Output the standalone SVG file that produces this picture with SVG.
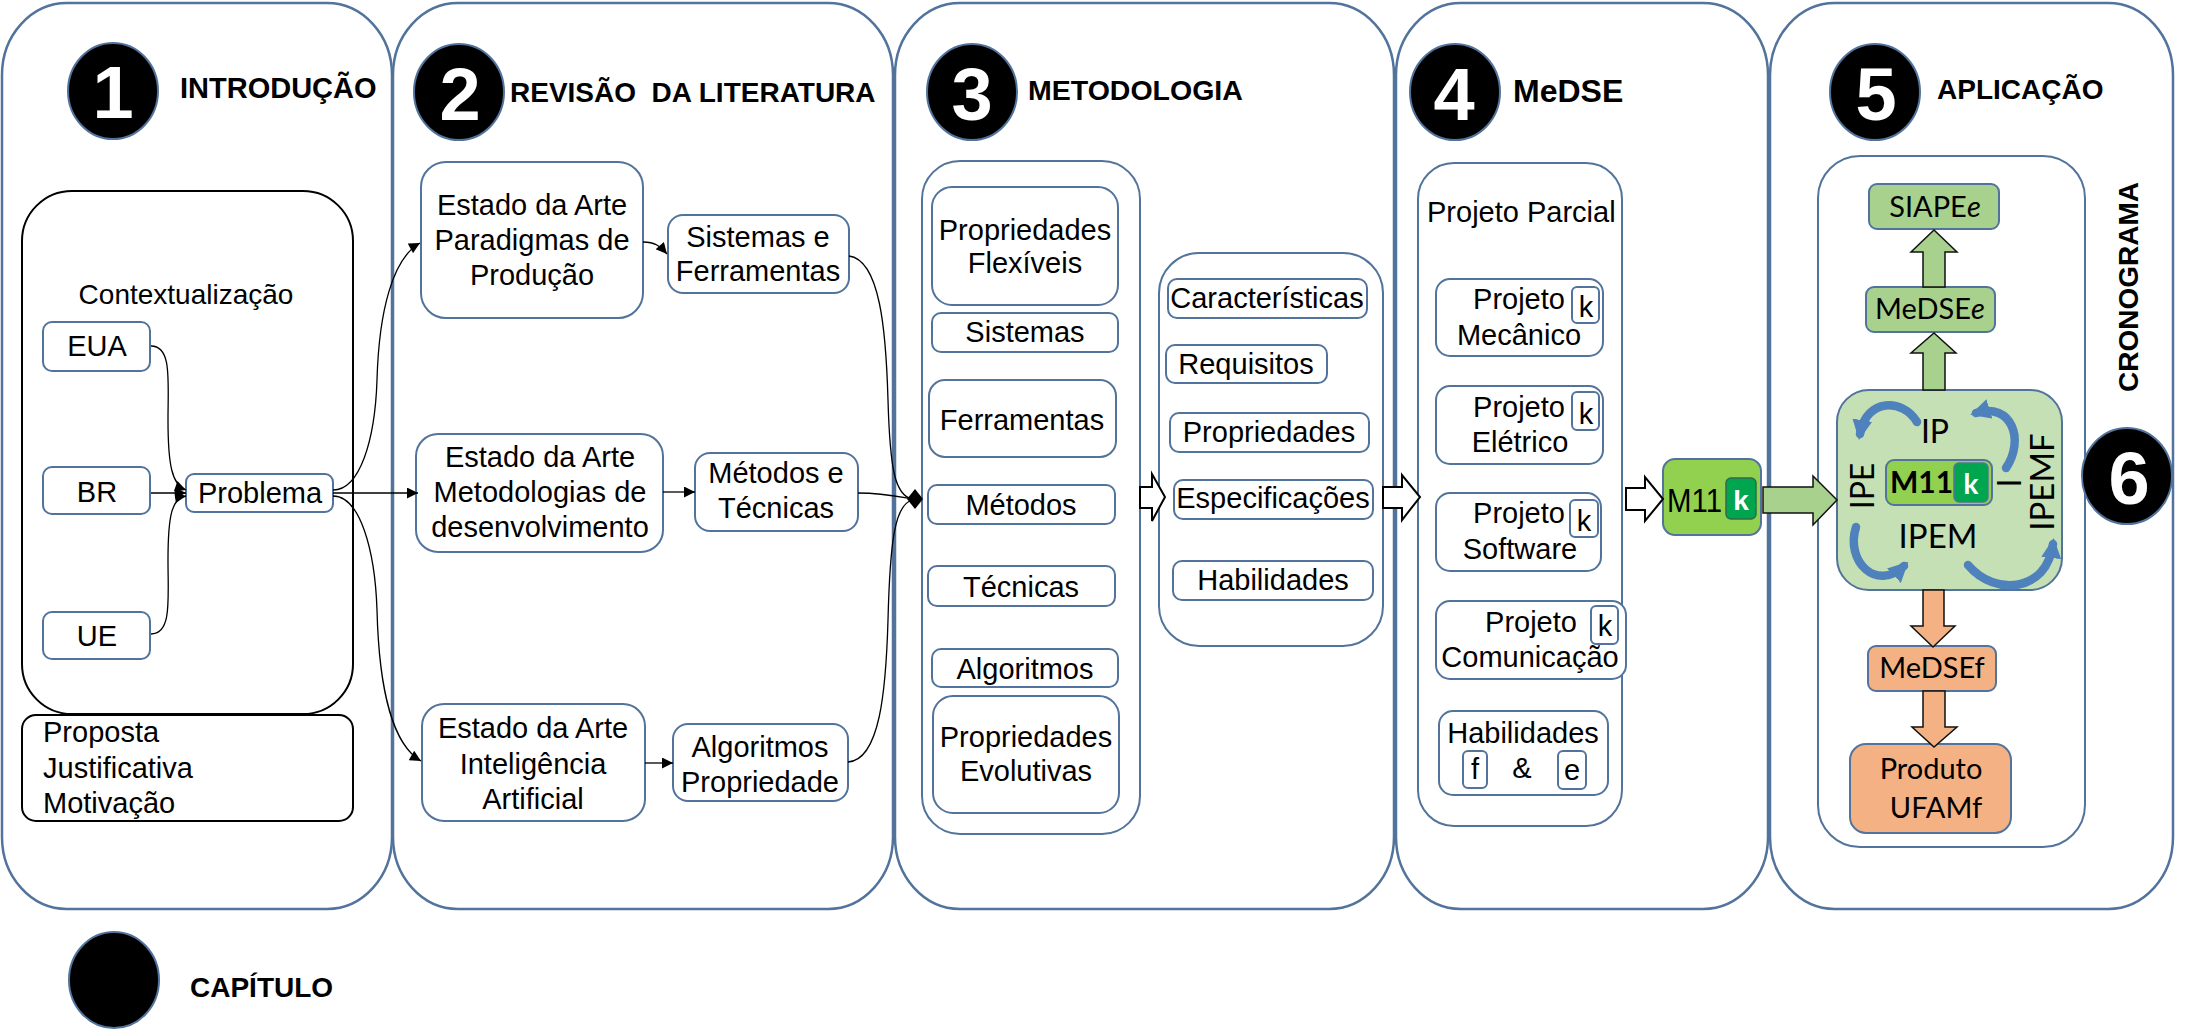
<svg xmlns="http://www.w3.org/2000/svg" width="2199" height="1030" viewBox="0 0 2199 1030">
<style>
.panel{fill:#fff;stroke:#52739b;stroke-width:2.5}
.box{fill:#fff;stroke:#52739b;stroke-width:2}
.bk{fill:#fff;stroke:#000;stroke-width:2}
.t{font-family:"Liberation Sans",Arial,sans-serif;font-size:29px;fill:#000}
.c{text-anchor:middle}
.h{font-family:"Liberation Sans",Arial,sans-serif;font-weight:bold;font-size:28px;fill:#000}
.num{font-family:"Liberation Sans",Arial,sans-serif;font-weight:bold;font-size:74px;fill:#fff;text-anchor:middle}
.chap{fill:#000;stroke:#52739b;stroke-width:2}
.conn{fill:none;stroke:#000;stroke-width:1.3}
.hol{fill:#fff;stroke:#000;stroke-width:2}
.cal{font-family:Lato,"Liberation Sans",sans-serif;font-size:29px;fill:#000}
.gbox{fill:#a9d18e;stroke:#52739b;stroke-width:2}
.obox{fill:#f4b183;stroke:#52739b;stroke-width:2}
.garr{fill:#a9d18e;stroke:#111;stroke-width:1.5}
.oarr{fill:#f4b183;stroke:#111;stroke-width:1.5}
.blue{fill:none;stroke:#4f81bd;stroke-width:8.5;stroke-linecap:round}
</style>
<defs>
<marker id="arr" viewBox="0 0 10 10" refX="10" refY="5" markerWidth="14" markerHeight="11" markerUnits="userSpaceOnUse" orient="auto"><path d="M0,0 L10,5 L0,10 z" fill="#000"/></marker>
<marker id="barr" viewBox="0 0 10 10" refX="7" refY="5" markerWidth="20" markerHeight="20" markerUnits="userSpaceOnUse" orient="auto"><path d="M0,0 L10,5 L0,10 z" fill="#4f81bd"/></marker>
</defs>
<rect x="0" y="0" width="2199" height="1030" fill="#fff"/>

<g id="panels">
<rect class="panel" x="2" y="3" width="390" height="906" rx="65" ry="72"/>
<rect class="panel" x="393" y="3" width="500" height="906" rx="65" ry="72"/>
<rect class="panel" x="895" y="3" width="499" height="906" rx="65" ry="72"/>
<rect class="panel" x="1396" y="3" width="372" height="906" rx="65" ry="72"/>
<rect class="panel" x="1770" y="3" width="403" height="906" rx="65" ry="72"/>
</g>

<g id="chapter1">
<ellipse class="chap" cx="113" cy="91" rx="45" ry="48"/>
<text class="num" x="113" y="118">1</text>
<text class="h" x="180" y="98" style="font-size:29px">INTRODUÇÃO</text>
</g>
<g id="contextualizacao">
<rect class="bk" x="22" y="191" width="331" height="523" rx="50"/>
<text class="t c" x="186" y="304" style="font-size:28px">Contextualização</text>
</g>
<g id="eua"><rect class="box" x="43" y="322" width="107" height="49" rx="9"/><text class="t c" x="97" y="356">EUA</text></g>
<g id="br"><rect class="box" x="43" y="467" width="107" height="47" rx="9"/><text class="t c" x="97" y="502">BR</text></g>
<g id="ue"><rect class="box" x="43" y="612" width="107" height="47" rx="9"/><text class="t c" x="97" y="646">UE</text></g>
<g id="problema"><rect class="box" x="186" y="474" width="147" height="38" rx="8"/><text class="t c" x="260" y="503">Problema</text></g>
<g id="proposta">
<rect class="bk" x="22" y="715" width="331" height="106" rx="14"/>
<text class="t" x="43" y="742">Proposta</text>
<text class="t" x="43" y="778">Justificativa</text>
<text class="t" x="43" y="813">Motivação</text>
</g>

<g id="chapter2">
<ellipse class="chap" cx="459" cy="92" rx="45" ry="48"/>
<text class="num" x="460" y="120">2</text>
<text class="h" x="510" y="102" style="white-space:pre">REVISÃO  DA LITERATURA</text>
</g>
<g id="ea-paradigmas"><rect class="box" x="421" y="162" width="222" height="156" rx="25"/>
<text class="t c" x="532" y="215">Estado da Arte</text><text class="t c" x="532" y="250">Paradigmas de</text><text class="t c" x="532" y="285">Produção</text></g>
<g id="sistemas-ferramentas"><rect class="box" x="668" y="215" width="181" height="78" rx="15"/>
<text class="t c" x="758" y="247">Sistemas e</text><text class="t c" x="758" y="281">Ferramentas</text></g>
<g id="ea-metodologias"><rect class="box" x="416" y="434" width="247" height="118" rx="22"/>
<text class="t c" x="540" y="467">Estado da Arte</text><text class="t c" x="540" y="502">Metodologias de</text><text class="t c" x="540" y="537">desenvolvimento</text></g>
<g id="metodos-tecnicas"><rect class="box" x="695" y="453" width="163" height="78" rx="15"/>
<text class="t c" x="776" y="483">Métodos e</text><text class="t c" x="776" y="518">Técnicas</text></g>
<g id="ea-ia"><rect class="box" x="422" y="704" width="223" height="117" rx="22"/>
<text class="t c" x="533" y="738">Estado da Arte</text><text class="t c" x="533" y="774">Inteligência</text><text class="t c" x="533" y="809">Artificial</text></g>
<g id="algoritmos-propriedade"><rect class="box" x="673" y="724" width="175" height="77" rx="15"/>
<text class="t c" x="760" y="757">Algoritmos</text><text class="t c" x="760" y="792">Propriedade</text></g>

<g id="chapter3">
<ellipse class="chap" cx="972" cy="92" rx="45" ry="48"/>
<text class="num" x="972" y="120">3</text>
<text class="h" x="1028" y="100" style="font-size:28.5px">METODOLOGIA</text>
</g>
<g id="grupo-esq"><rect class="box" x="922" y="161" width="218" height="673" rx="38"/></g>
<g id="prop-flexiveis"><rect class="box" x="932" y="187" width="186" height="118" rx="20"/>
<text class="t c" x="1025" y="240">Propriedades</text><text class="t c" x="1025" y="273">Flexíveis</text></g>
<g id="sistemas"><rect class="box" x="932" y="313" width="186" height="39" rx="9"/><text class="t c" x="1025" y="342">Sistemas</text></g>
<g id="ferramentas"><rect class="box" x="929" y="380" width="187" height="77" rx="16"/><text class="t c" x="1022" y="430">Ferramentas</text></g>
<g id="metodos"><rect class="box" x="928" y="485" width="187" height="39" rx="9"/><text class="t c" x="1021" y="515">Métodos</text></g>
<g id="tecnicas"><rect class="box" x="928" y="566" width="187" height="40" rx="9"/><text class="t c" x="1021" y="597">Técnicas</text></g>
<g id="algoritmos"><rect class="box" x="932" y="649" width="186" height="38" rx="9"/><text class="t c" x="1025" y="679">Algoritmos</text></g>
<g id="prop-evolutivas"><rect class="box" x="933" y="696" width="186" height="117" rx="20"/>
<text class="t c" x="1026" y="747">Propriedades</text><text class="t c" x="1026" y="781">Evolutivas</text></g>
<g id="grupo-dir"><rect class="box" x="1159" y="253" width="224" height="393" rx="40"/></g>
<g id="caracteristicas"><rect class="box" x="1168" y="279" width="199" height="39" rx="9"/><text class="t c" x="1267" y="308">Características</text></g>
<g id="requisitos"><rect class="box" x="1166" y="345" width="161" height="38" rx="9"/><text class="t c" x="1246" y="374">Requisitos</text></g>
<g id="propriedades"><rect class="box" x="1170" y="413" width="199" height="39" rx="9"/><text class="t c" x="1269" y="442">Propriedades</text></g>
<g id="especificacoes"><rect class="box" x="1174" y="480" width="199" height="39" rx="9"/><text class="t c" x="1273" y="508">Especificações</text></g>
<g id="habilidades3"><rect class="box" x="1173" y="561" width="200" height="39" rx="9"/><text class="t c" x="1273" y="590">Habilidades</text></g>

<g id="chapter4">
<ellipse class="chap" cx="1455" cy="92" rx="45" ry="48"/>
<text class="num" x="1454" y="120">4</text>
<text class="h" x="1513" y="102" style="font-size:32px">MeDSE</text>
</g>
<g id="projeto-parcial"><rect class="box" x="1418" y="163" width="204" height="663" rx="36"/>
<text class="t" x="1427" y="222">Projeto Parcial</text></g>
<g id="proj-mecanico"><rect class="box" x="1436" y="279" width="167" height="77" rx="14"/>
<text class="t c" x="1519" y="309">Projeto</text><text class="t c" x="1519" y="345">Mecânico</text>
<rect class="box" x="1572" y="287" width="27" height="36" rx="5"/><text class="t c" x="1586" y="317">k</text></g>
<g id="proj-eletrico"><rect class="box" x="1436" y="386" width="167" height="78" rx="14"/>
<text class="t c" x="1519" y="417">Projeto</text><text class="t c" x="1520" y="452">Elétrico</text>
<rect class="box" x="1572" y="392" width="27" height="38" rx="5"/><text class="t c" x="1586" y="424">k</text></g>
<g id="proj-software"><rect class="box" x="1436" y="493" width="165" height="78" rx="14"/>
<text class="t c" x="1519" y="523">Projeto</text><text class="t c" x="1520" y="559">Software</text>
<rect class="box" x="1570" y="500" width="28" height="37" rx="5"/><text class="t c" x="1584" y="531">k</text></g>
<g id="proj-comunicacao"><rect class="box" x="1436" y="601" width="190" height="78" rx="14"/>
<text class="t c" x="1531" y="632">Projeto</text><text class="t c" x="1530" y="667">Comunicação</text>
<rect class="box" x="1591" y="606" width="27" height="38" rx="5"/><text class="t c" x="1605" y="636">k</text></g>
<g id="habilidades4"><rect class="box" x="1439" y="711" width="169" height="84" rx="14"/>
<text class="t c" x="1523" y="743">Habilidades</text>
<rect class="box" x="1463" y="751" width="24" height="37" rx="5"/><text class="t c" x="1475" y="779">f</text>
<text class="t c" x="1522" y="778">&amp;</text>
<rect class="box" x="1558" y="751" width="28" height="38" rx="5"/><text class="t c" x="1572" y="780">e</text></g>
<g id="m11k">
<rect x="1663" y="459" width="98" height="76" rx="12" fill="#92d050" stroke="#52739b" stroke-width="2"/>
<text class="t" x="1667" y="512" style="font-size:34px" textLength="55" lengthAdjust="spacingAndGlyphs">M11</text>
<rect x="1726" y="478" width="30" height="41" rx="5" fill="#00a550" stroke="#2f6b4a" stroke-width="1.5"/>
<text class="t c" x="1741" y="510" style="font-weight:bold;fill:#fff;font-size:28px">k</text>
</g>

<g id="chapter5">
<ellipse class="chap" cx="1875" cy="92" rx="45" ry="48"/>
<text class="num" x="1876" y="120">5</text>
<text class="h" x="1937" y="99">APLICAÇÃO</text>
</g>
<g id="aplicacao-grupo"><rect class="box" x="1818" y="156" width="267" height="691" rx="42"/></g>
<g id="siapee"><rect class="gbox" x="1869" y="184" width="130" height="45" rx="8"/>
<text class="cal c" x="1935" y="217">SIAPE<tspan font-style="italic">e</tspan></text></g>
<g id="medsee"><rect class="gbox" x="1866" y="287" width="129" height="45" rx="8"/>
<text class="cal c" x="1930" y="319">MeDSE<tspan font-style="italic">e</tspan></text></g>
<g id="ip-ciclo">
<rect x="1837" y="390" width="225" height="200" rx="32" fill="#c5e0b4" stroke="#52739b" stroke-width="2"/>
<text class="cal c" x="1935" y="443" style="font-size:32px">IP</text>
<text class="cal c" x="1938" y="548" style="font-size:33px">IPEM</text>
<text class="cal c" transform="translate(1874,486) rotate(-90)" style="font-size:32px">IPE</text>
<text class="cal c" transform="translate(2054,482) rotate(-90)" style="font-size:33px">IPEMF</text>
<text class="cal c" transform="translate(2021,483) rotate(-90)" style="font-size:32px">I</text>
<rect x="1886" y="460" width="106" height="45" rx="8" fill="#92d050" stroke="#52739b" stroke-width="2"/>
<text class="cal" x="1890" y="493" style="font-weight:bold;font-size:30px">M11</text>
<rect x="1954" y="463" width="34" height="39" rx="5" fill="#00a550" stroke="#52739b" stroke-width="1.5"/>
<text class="cal c" x="1971" y="494" style="font-weight:bold;fill:#fff;font-size:28px">k</text>
<path class="blue" d="M1917,422 C1903,398 1866,398 1860,434" marker-end="url(#barr)"/>
<path class="blue" d="M2006,468 C2025,440 2012,402 1976,413" marker-end="url(#barr)"/>
<path class="blue" d="M1856,527 C1845,562 1877,592 1904,566" marker-end="url(#barr)"/>
<path class="blue" d="M1968,565 C1995,597 2047,592 2053,544" marker-end="url(#barr)"/>
</g>
<g id="medsef"><rect class="obox" x="1868" y="646" width="128" height="45" rx="8"/>
<text class="cal c" x="1932" y="678">MeDSEf</text></g>
<g id="produto-ufamf"><rect class="obox" x="1850" y="744" width="161" height="89" rx="16"/>
<text class="cal c" x="1931" y="779">Produto</text><text class="cal c" x="1936" y="818">UFAMf</text></g>

<g id="chapter6">
<ellipse class="chap" cx="2127" cy="476" rx="45" ry="48"/>
<text class="num" x="2129" y="504">6</text>
<text class="h c" transform="translate(2138,287) rotate(-90)">CRONOGRAMA</text>
</g>

<g id="legenda">
<ellipse class="chap" cx="114" cy="980" rx="45" ry="48"/>
<text class="h" x="190" y="997">CAPÍTULO</text>
</g>

<g id="connectors">
<path class="conn" d="M151,346 C172,346 168,380 168,420 C168,465 172,485 186,490" marker-end="url(#arr)"/>
<path class="conn" d="M151,493 L186,493" marker-end="url(#arr)"/>
<path class="conn" d="M151,634 C172,634 168,600 168,560 C168,515 172,498 186,496" marker-end="url(#arr)"/>
<path class="conn" d="M333,490 C360,490 375,440 377,380 C379,310 393,258 420,243" marker-end="url(#arr)"/>
<path class="conn" d="M333,493 L418,493" marker-end="url(#arr)"/>
<path class="conn" d="M333,496 C360,496 375,550 377,610 C379,690 393,745 421,761" marker-end="url(#arr)"/>
<path class="conn" d="M643,242 C655,242 660,246 667,254" marker-end="url(#arr)"/>
<path class="conn" d="M663,492 L695,492" marker-end="url(#arr)"/>
<path class="conn" d="M645,763 L673,763" marker-end="url(#arr)"/>
<path class="conn" d="M849,256 C880,260 886,330 888,400 C890,470 895,495 912,499"/>
<path class="conn" d="M858,493 C885,493 900,497 912,499"/>
<path class="conn" d="M848,762 C880,760 886,690 888,620 C890,540 895,505 912,500"/>
<polygon points="907,499 915,489 923,499 915,509" fill="#000"/>
<polygon class="hol" points="1140,487 1152,487 1152,474 1165,497 1152,521 1152,508 1140,508"/>
<polygon class="hol" points="1383,487 1402,487 1402,475 1420,497 1402,520 1402,508 1383,508"/>
<polygon class="hol" points="1626,488 1645,488 1645,477 1663,499 1645,521 1645,510 1626,510"/>
<polygon class="garr" points="1763,487 1813,487 1813,476 1837,500 1813,525 1813,513 1763,513"/>
<polygon class="garr" points="1934,230 1957,252 1945,252 1945,287 1923,287 1923,252 1911,252"/>
<polygon class="garr" points="1934,333 1956,353 1945,353 1945,390 1923,390 1923,353 1911,353"/>
<polygon class="oarr" points="1923,590 1944,590 1944,626 1955,626 1933,647 1911,626 1923,626"/>
<polygon class="oarr" points="1923,691 1945,691 1945,727 1957,727 1934,747 1912,727 1923,727"/>
</g>
</svg>
